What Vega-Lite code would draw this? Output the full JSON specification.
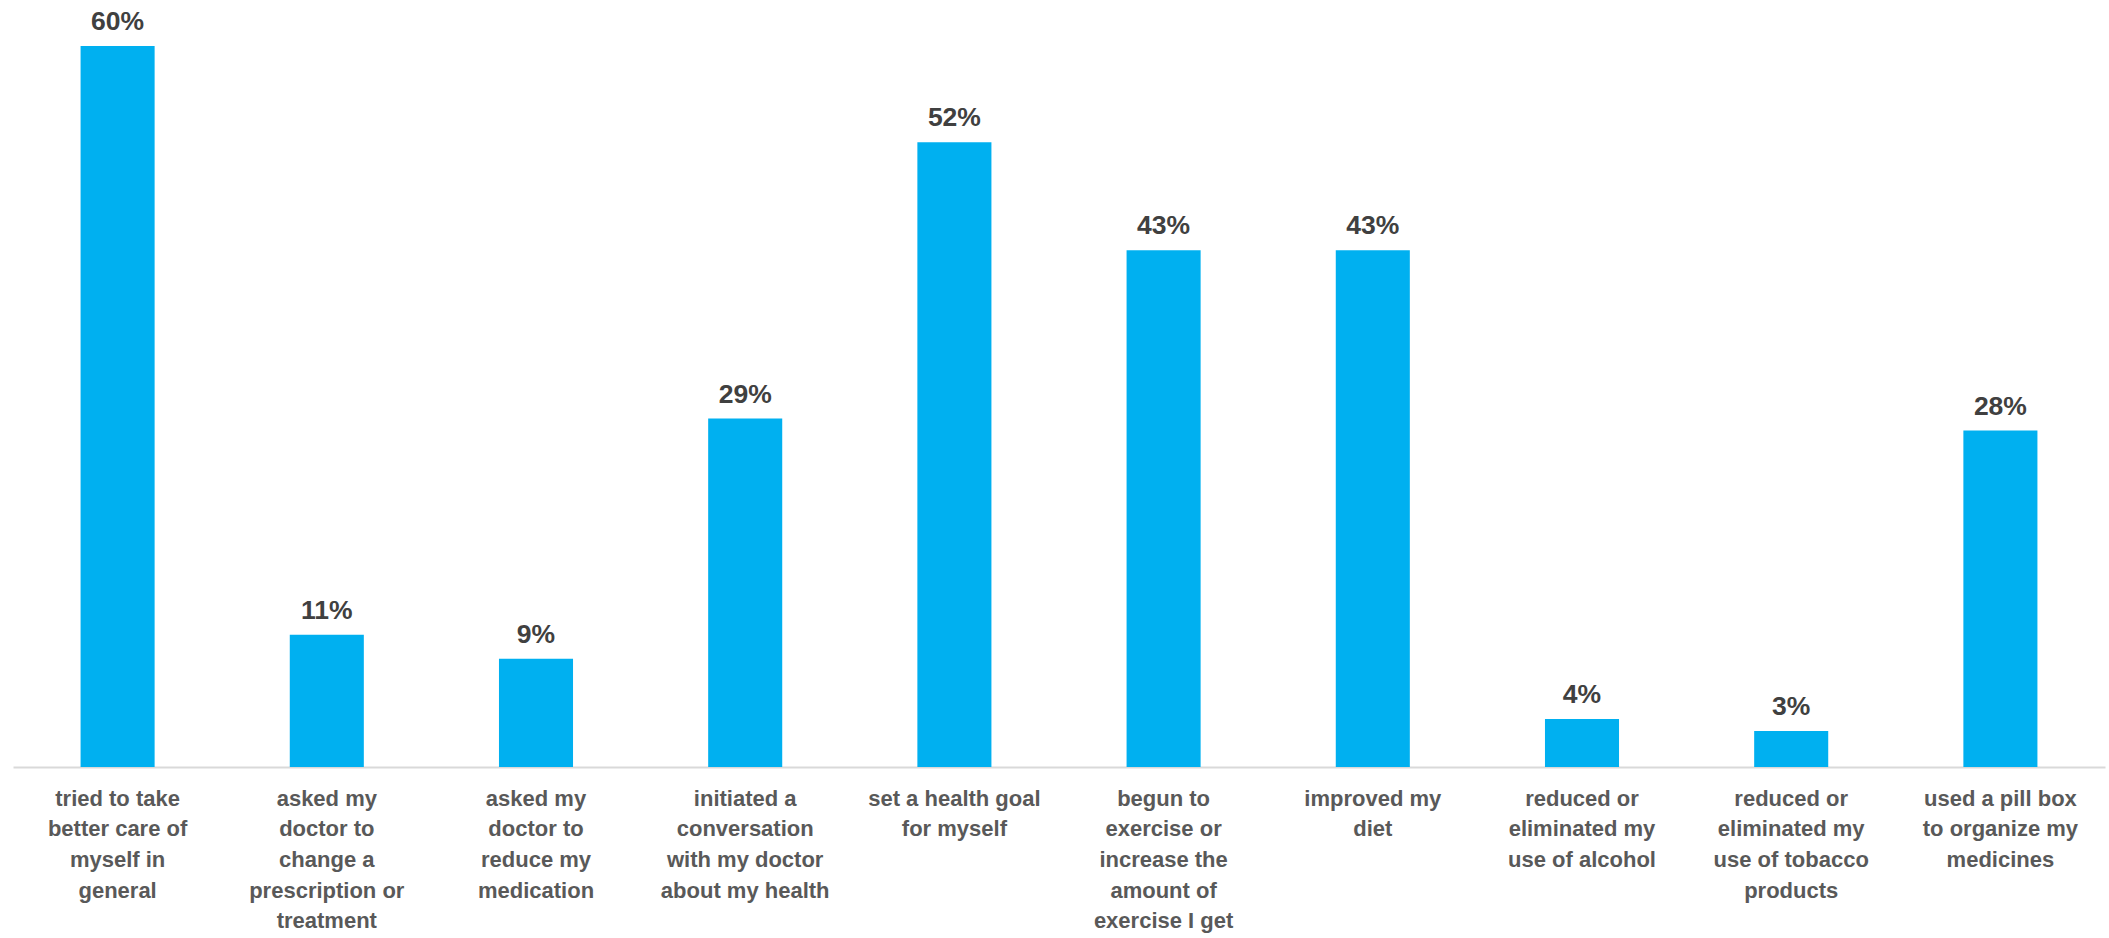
{
  "$schema": "https://vega.github.io/schema/vega-lite/v6.json",
  "width": 2092,
  "height": 721,
  "autosize": "none",
  "padding": {"left": 13, "top": 46, "right": 4, "bottom": 171},
  "background": "white",
  "config": {"view": {"stroke": null}},
  "data": {
    "values": [
      {"action": "tried to take|better care of|myself in|general", "pct": 0.60},
      {"action": "asked my|doctor to|change a|prescription or|treatment", "pct": 0.11},
      {"action": "asked my|doctor to|reduce my|medication", "pct": 0.09},
      {"action": "initiated a|conversation|with my doctor|about my health", "pct": 0.29},
      {"action": "set a health goal|for myself", "pct": 0.52},
      {"action": "begun to|exercise or|increase the|amount of|exercise I get", "pct": 0.43},
      {"action": "improved my|diet", "pct": 0.43},
      {"action": "reduced or|eliminated my|use of alcohol", "pct": 0.04},
      {"action": "reduced or|eliminated my|use of tobacco|products", "pct": 0.03},
      {"action": "used a pill box|to organize my|medicines", "pct": 0.28}
    ]
  },
  "encoding": {
    "x": {
      "field": "action",
      "type": "nominal",
      "sort": null,
      "scale": {"paddingInner": 0.646, "paddingOuter": 0.323},
      "axis": {
        "title": null,
        "labelAngle": 0,
        "labelExpr": "split(datum.value, '|')",
        "labelFont": "Liberation Sans",
        "labelFontWeight": "bold",
        "labelFontSize": 22,
        "labelLineHeight": 30.7,
        "labelColor": "#595959",
        "labelPadding": 21,
        "labelLimit": 0,
        "ticks": false,
        "domainColor": "#d9d9d9",
        "domainWidth": 2,
        "grid": false
      }
    },
    "y": {
      "field": "pct",
      "type": "quantitative",
      "scale": {"domain": [0, 0.6], "nice": false},
      "axis": null
    }
  },
  "layer": [
    {"mark": {"type": "bar", "color": "#00b0f0"}},
    {
      "mark": {
        "type": "text",
        "baseline": "alphabetic",
        "dy": -16,
        "font": "Liberation Sans",
        "fontWeight": "bold",
        "fontSize": 26.5,
        "color": "#404040"
      },
      "encoding": {"text": {"field": "pct", "type": "quantitative", "format": ".0%"}}
    }
  ]
}
